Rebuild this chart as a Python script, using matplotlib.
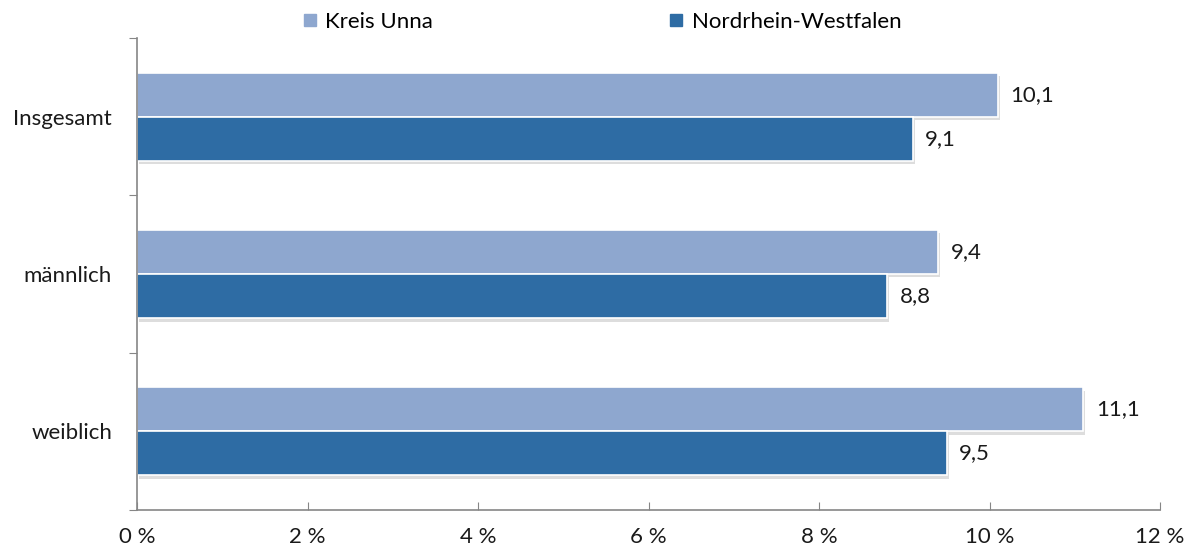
import numpy as np
import matplotlib
matplotlib.use("Agg")
import matplotlib.pyplot as plt
from matplotlib import patheffects as pe
from matplotlib.lines import Line2D

plt.rcParams['font.family'] = ['Lato', 'DejaVu Sans']

categories = ["Insgesamt", "männlich", "weiblich"]
kreis_unna = [10.1, 9.4, 11.1]
nrw = [9.1, 8.8, 9.5]
series_names = ["Kreis Unna", "Nordrhein-Westfalen"]
xticks = [0, 2, 4, 6, 8, 10, 12]

c_light = "#8EA7CF"
c_dark = "#2E6CA4"
grey = "#868686"
txt = "#1a1a1a"
fs = 16

fig = plt.figure(figsize=(11.98, 5.55), dpi=100)
ax = fig.add_axes([137/1198, 45/555, (1160-137)/1198, (510-38)/555])

y = np.arange(len(categories))[::-1]
h = 0.28
shadow = [pe.SimplePatchShadow(offset=(1.5, -2.5), shadow_rgbFace="#aaaaaa", alpha=0.4), pe.Normal()]

b1 = ax.barh(y + h/2, kreis_unna, height=h, color=c_light, edgecolor="white", linewidth=1.2)
b2 = ax.barh(y - h/2, nrw, height=h, color=c_dark, edgecolor="white", linewidth=1.2)
for b in list(b1) + list(b2):
    b.set_path_effects(shadow)

# value labels with german decimal comma
for bars, vals in [(b1, kreis_unna), (b2, nrw)]:
    for bar, v in zip(bars, vals):
        ax.annotate(f"{v:.1f}".replace(".", ","),
                    (bar.get_width(), bar.get_y() + bar.get_height()/2),
                    xytext=(9, 0), textcoords="offset points",
                    va="center", ha="left", fontsize=fs, color=txt)

ax.set_xlim(0, 12)
ax.set_ylim(-0.5, 2.5)
ax.set_xticks(xticks)
ax.set_xticklabels([f"{t} %" for t in xticks], fontsize=fs, color=txt)
ax.tick_params(axis="x", direction="in", length=6, color=grey, pad=12)

ax.set_yticks([-0.5, 0.5, 1.5, 2.5])
ax.set_yticklabels([])
ax.set_yticks(y, minor=True)
ax.set_yticklabels(categories, minor=True, fontsize=fs, color=txt)
ax.tick_params(axis="y", which="major", direction="out", length=6, color=grey)
ax.tick_params(axis="y", which="minor", length=0, pad=18)

for s in ["top", "right"]:
    ax.spines[s].set_visible(False)
for s in ["left", "bottom"]:
    ax.spines[s].set_color(grey)
    ax.spines[s].set_linewidth(1.2)

handles = [Line2D([], [], marker="s", linestyle="", markersize=9, color=c) for c in (c_light, c_dark)]
fig.legend(handles, series_names, loc="upper center", bbox_to_anchor=(0.5, 1.015), ncol=2,
           frameon=False, fontsize=fs, handletextpad=0.1, handlelength=1.2, columnspacing=10.35)

fig.savefig("out.png", dpi=100)
